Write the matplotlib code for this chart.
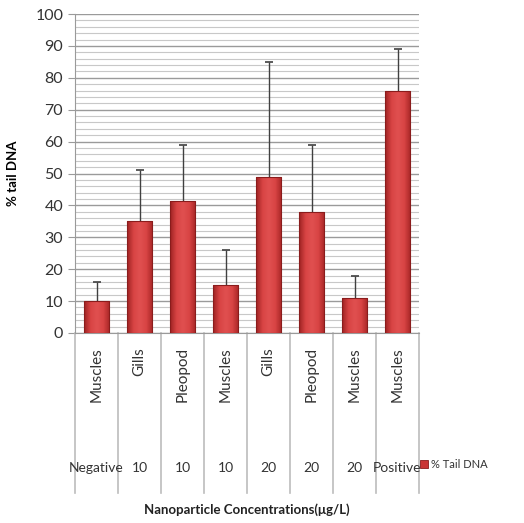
import numpy as np
import matplotlib.pyplot as plt
from matplotlib.lines import Line2D
from matplotlib.colors import LinearSegmentedColormap

tissues = ['Muscles', 'Gills', 'Pleopod', 'Muscles', 'Gills', 'Pleopod', 'Muscles', 'Muscles']
concs = ['Negative', '10', '10', '10', '20', '20', '20', 'Positive']
tail_dna = [10, 35, 41.5, 15, 49, 38, 11, 76]
err_top = [16, 51, 59, 26, 85, 59, 18, 89]

plt.rcParams['font.family'] = ['Lato', 'DejaVu Sans']

fig = plt.figure(figsize=(5.24, 5.23), dpi=100)
ax = fig.add_axes([75/524, 190/523, 344/524, 319/523])

x = np.arange(len(tail_dna))
errs = np.array(err_top) - np.array(tail_dna)
bars = ax.bar(x, tail_dna, width=0.6, color='#c93434', edgecolor='#8a1c1c', linewidth=0.8, zorder=3)

# cylinder-like shading across each bar
shade = LinearSegmentedColormap.from_list('shade', ['#9e2222', '#d84444', '#e05050', '#d84444', '#a82626'])
grad = np.linspace(0, 1, 64).reshape(1, -1)
for b in bars:
    bx, by = b.get_x(), b.get_y()
    im = ax.imshow(grad, cmap=shade, aspect='auto', zorder=3.5,
                   extent=[bx, bx + b.get_width(), by, by + b.get_height()])
    im.set_clip_path(b)
    b.set_facecolor('none')
    b.set_zorder(4)

line, caps, _ = ax.errorbar(x, tail_dna, yerr=[np.zeros_like(errs), errs], fmt='none',
                            ecolor='#404040', elinewidth=1, capsize=3, capthick=1.2, zorder=2)
for c in caps:
    if np.allclose(c.get_ydata(), tail_dna):
        c.set_visible(False)

ax.set_xlim(-0.5, len(x) - 0.5)
ax.set_ylim(0, 100)
ax.set_yticks(np.arange(0, 101, 10))
ax.set_yticks(np.arange(0, 101, 2), minor=True)
ax.grid(axis='y', which='major', color='#9a9a9a', linewidth=1.0, zorder=0)
ax.grid(axis='y', which='minor', color='#c8c8c8', linewidth=0.8, zorder=0)
ax.tick_params(axis='y', which='major', length=5, color='#9a9a9a', labelsize=11.5, labelcolor='#333333')
ax.tick_params(axis='y', which='minor', length=0)
ax.set_xticks([])
for s in ['top', 'right']:
    ax.spines[s].set_visible(False)
ax.spines['left'].set_color('#9a9a9a')
ax.spines['bottom'].set_color('#9a9a9a')

trans = ax.get_xaxis_transform()
for i in range(len(x) + 1):
    ax.add_line(Line2D([i - 0.5, i - 0.5], [0, -0.50], transform=trans,
                       color='#bcbcbc', linewidth=1.2, clip_on=False))
for i, (t, c) in enumerate(zip(tissues, concs)):
    ax.text(i, -0.045, t, transform=trans, rotation=90, ha='center', va='top',
            fontsize=11, color='#333333')
    ax.text(i, -0.423, c, transform=trans, ha='center', va='center',
            fontsize=10, color='#333333')

ax.set_ylabel('% tail DNA', fontsize=9.5, fontweight='bold', labelpad=12)
fig.text(247/524, 1 - 510/523, 'Nanoparticle Concentrations(\u03bcg/L)', ha='center', va='center',
         fontsize=9.5, fontweight='bold', color='#222222')

fig.patches.append(plt.Rectangle((420/524, 1 - 468/523), 8/524, 8/523,
                                 transform=fig.transFigure, facecolor='#c93434',
                                 edgecolor='#8a1c1c', linewidth=0.6))
fig.text(431/524, 1 - 464/523, '% Tail DNA', ha='left', va='center', fontsize=8, color='#333333')

fig.savefig('out.png', dpi=100)
